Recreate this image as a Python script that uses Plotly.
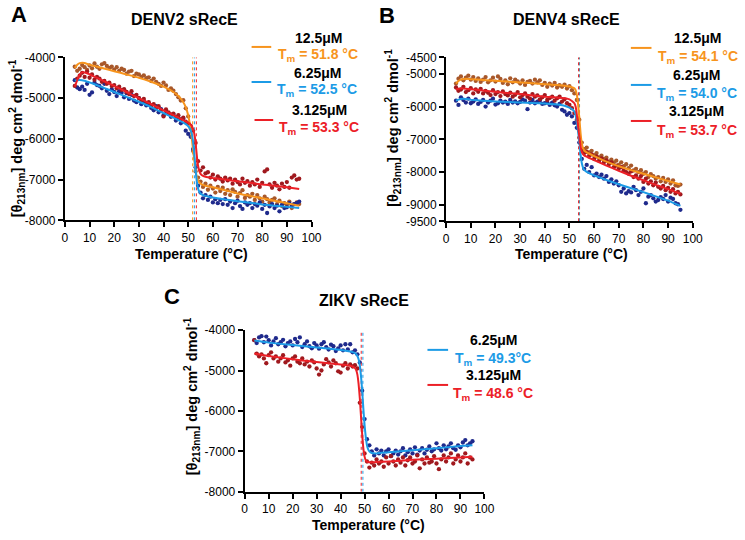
import plotly.graph_objects as go

# ---------------- data ----------------
temperature_c = [4, 5, 6, 7, 8, 9, 10, 11, 12, 13,
                 14, 15, 16, 17, 18, 19, 20, 21, 22, 23,
                 24, 25, 26, 27, 28, 29, 30, 31, 32, 33,
                 34, 35, 36, 37, 38, 39, 40, 41, 42, 43,
                 44, 45, 46, 47, 48, 49, 50, 51, 52, 53,
                 54, 55, 56, 57, 58, 59, 60, 61, 62, 63,
                 64, 65, 66, 67, 68, 69, 70, 71, 72, 73,
                 74, 75, 76, 77, 78, 79, 80, 81, 82, 83,
                 84, 85, 86, 87, 88, 89, 90, 91, 92, 93,
                 94, 95]

# Panel A - DENV2 sRecE (measured points)
denv2_12p5 = [-4230, -4330, -4280, -4190, -4240, -4310, -4200, -4270, -4150, -4230,
              -4280, -4170, -4140, -4210, -4260, -4230, -4300, -4240, -4330, -4280,
              -4310, -4400, -4350, -4330, -4460, -4400, -4420, -4480, -4440, -4510,
              -4490, -4580, -4520, -4600, -4650, -4700, -4620, -4690, -4800, -4760,
              -4820, -4900, -4980, -5060, -5050, -5250, -5450, -5750, -6300, -6800,
              -6950, -7050, -7180, -7100, -7250, -7150, -7220, -7320, -7180, -7280,
              -7200, -7350, -7260, -7380, -7240, -7300, -7420, -7330, -7260, -7450,
              -7380, -7420, -7350, -7500, -7380, -7460, -7540, -7420, -7480, -7560,
              -7500, -7460, -7600, -7520, -7650, -7580, -7620, -7540, -7700, -7600,
              -7560, -7600]
denv2_6p25 = [-4560, -4740, -4780, -4720, -4800, -4650, -4920, -4860, -4620, -4680,
              -4700, -4760, -4650, -4820, -4900, -4780, -4850, -4950, -4830, -4870,
              -4980, -4880, -5020, -4920, -5060, -5100, -5000, -5150, -5080, -5180,
              -5130, -5240, -5300, -5200, -5350, -5270, -5420, -5320, -5380, -5460,
              -5400, -5550, -5480, -5620, -5500, -5800, -5880, -5950, -6250, -6700,
              -7150, -7320, -7460, -7380, -7500, -7420, -7560, -7480, -7580, -7500,
              -7600, -7480, -7620, -7540, -7700, -7580, -7520, -7650, -7720, -7560,
              -7620, -7580, -7700, -7600, -7640, -7560, -7720, -7620, -7820, -7660,
              -7600, -7700, -7640, -7780, -7620, -7700, -7680, -7580, -7640, -7600,
              -7580, -7540]
denv2_3p125 = [-4700, -4520, -4450, -4380, -4480, -4350, -4500, -4420, -4550, -4480,
               -4520, -4600, -4580, -4650, -4620, -4700, -4680, -4760, -4720, -4800,
               -4780, -4850, -4900, -4830, -4950, -4920, -5000, -5060, -5020, -5120,
               -5100, -5180, -5150, -5250, -5200, -5300, -5450, -5280, -5350, -5400,
               -5380, -5460, -5420, -5520, -5480, -5580, -5620, -5680, -5800, -6100,
               -6550, -6780, -6700, -6850, -6820, -6950, -6880, -7000, -6920, -6980,
               -7050, -6950, -7020, -6980, -7100, -7000, -7060, -7120, -6980, -7080,
               -7040, -7150, -7060, -7120, -7000, -7180, -7080, -6800, -6750, -7120,
               -7200, -7080, -7150, -7240, -7100, -7180, -7060, -7200, -6950, -6900,
               -7000, -6980]

# Panel A fitted curves
fit_t_a = [4, 5, 6, 7, 8, 9, 10, 15, 20, 25, 30, 35, 40, 44, 46, 48, 49, 50, 50.5, 51,
           51.5, 52, 52.5, 53, 53.5, 54, 54.5, 55, 56, 57, 58, 60, 65, 70, 75, 80, 85, 90, 95]
fit_denv2_12p5 = [-4260, -4180, -4140, -4130, -4140, -4160, -4180, -4260, -4340, -4420,
                  -4500, -4600, -4720, -4850, -4950, -5100, -5220, -5420, -5580, -5780,
                  -6020, -6280, -6550, -6780, -6930, -7020, -7070, -7100, -7130, -7150,
                  -7165, -7190, -7260, -7340, -7400, -7460, -7520, -7580, -7640]
fit_denv2_6p25 = [-4570, -4560, -4555, -4560, -4575, -4595, -4615, -4730, -4850, -4970,
                  -5090, -5220, -5370, -5480, -5540, -5600, -5640, -5690, -5730, -5790,
                  -5890, -6080, -6400, -6760, -7050, -7220, -7300, -7340, -7380, -7400,
                  -7415, -7440, -7490, -7530, -7570, -7610, -7640, -7670, -7700]
fit_denv2_3p125 = [-4720, -4560, -4420, -4370, -4370, -4390, -4420, -4560, -4700, -4850,
                   -5000, -5150, -5300, -5420, -5480, -5540, -5570, -5600, -5620, -5650,
                   -5690, -5760, -5880, -6100, -6420, -6660, -6790, -6860, -6910, -6930,
                   -6940, -6960, -7000, -7040, -7080, -7120, -7150, -7190, -7230]

# Panel B - DENV4 sRecE (measured points)
denv4_12p5 = [-5300, -5150, -5080, -5200, -5120, -5060, -5180, -5100, -5220, -5140,
              -5250, -5180, -5100, -5260, -5200, -5120, -5240, -5080, -5160, -5280,
              -5200, -5320, -5140, -5260, -5180, -5230, -5300, -5200, -5340, -5250,
              -5220, -5300, -5180, -5260, -5200, -5340, -5280, -5400, -5300, -5360,
              -5280, -5420, -5350, -5400, -5330, -5450, -5380, -5500, -5600, -5800,
              -6400, -7100, -7300, -7250, -7400, -7350, -7480, -7420, -7550, -7500,
              -7600, -7560, -7680, -7620, -7700, -7650, -7780, -7700, -7820, -7760,
              -7880, -7800, -7950, -7900, -8000, -7940, -8050, -8000, -8150, -8060,
              -8120, -8200, -8150, -8280, -8180, -8300, -8220, -8350, -8250, -8400,
              -8420, -8380]
denv4_6p25 = [-5820, -5950, -5720, -5800, -5880, -5760, -5900, -5850, -5780, -5920,
              -5860, -5800, -6000, -5880, -5820, -5760, -5940, -5900, -5820, -5880,
              -5850, -5920, -5800, -5880, -5840, -5900, -5860, -5780, -5820, -6080,
              -5880, -5800, -5900, -5850, -5820, -5920, -5900, -5870, -5950, -5880,
              -5960, -6000, -5920, -6100, -6150, -6250, -6200, -6300, -6500, -6650,
              -7100, -7600, -7900, -7780, -8000, -7850, -8100, -8050, -8150, -8080,
              -8200, -8120, -8300, -8220, -8350, -8280, -8400, -8600, -8500, -8650,
              -8580, -8620, -8450, -8550, -8700, -8600, -8500, -8950, -8750, -8700,
              -8800, -8900, -8850, -8760, -8820, -8700, -8900, -8780, -8820, -8950,
              -8980, -9150]
denv4_3p125 = [-5420, -5520, -5480, -5400, -5560, -5500, -5440, -5600, -5480, -5550,
               -5460, -5600, -5520, -5580, -5650, -5500, -5620, -5560, -5680, -5540,
               -5620, -5660, -5580, -5700, -5640, -5560, -5720, -5650, -5600, -5700,
               -5760, -5620, -5700, -5660, -5780, -5720, -5650, -5800, -5740, -5700,
               -5820, -5750, -5700, -5850, -5780, -5900, -5950, -6050, -6200, -6400,
               -6950, -7350, -7420, -7380, -7500, -7460, -7600, -7520, -7650, -7580,
               -7700, -7640, -7760, -7700, -7850, -7800, -7900, -7850, -7950, -8000,
               -8050, -7980, -8150, -8100, -8200, -8120, -8300, -8200, -8350, -8280,
               -8400, -8320, -8450, -8500, -8420, -8550, -8480, -8600, -8520, -8650,
               -8600, -8680]

# Panel B fitted curves
fit_t_b = [4, 5, 6, 7, 8, 10, 15, 20, 25, 30, 35, 40, 44, 46, 48, 50, 51, 52, 52.5, 53,
           53.5, 54, 54.5, 55, 55.5, 56, 57, 58, 60, 65, 70, 75, 80, 85, 90, 95]
fit_denv4_12p5 = [-5300, -5220, -5180, -5160, -5155, -5165, -5190, -5215, -5240, -5265,
                  -5290, -5320, -5340, -5350, -5365, -5390, -5410, -5440, -5500, -5640,
                  -5930, -6330, -6800, -7120, -7270, -7340, -7400, -7440, -7510, -7680,
                  -7820, -7940, -8050, -8160, -8270, -8380]
fit_denv4_6p25 = [-5820, -5790, -5770, -5765, -5770, -5790, -5820, -5845, -5865, -5880,
                  -5895, -5910, -5930, -5945, -5975, -6030, -6080, -6150, -6260, -6500,
                  -6770, -7050, -7450, -7720, -7860, -7930, -7990, -8030, -8100, -8240,
                  -8370, -8490, -8610, -8740, -8870, -9030]
fit_denv4_3p125 = [-5480, -5460, -5450, -5450, -5455, -5470, -5510, -5550, -5590, -5620,
                   -5660, -5700, -5720, -5730, -5750, -5780, -5830, -5900, -6000, -6250,
                   -6600, -6900, -7200, -7380, -7450, -7490, -7530, -7570, -7630, -7800,
                   -7960, -8110, -8250, -8390, -8520, -8660]

# Panel C - ZIKV sRecE (measured points)
zikv_6p25 = [-4250, -4320, -4180, -4150, -4300, -4160, -4250, -4380, -4280, -4200,
             -4350, -4300, -4240, -4400, -4320, -4280, -4380, -4220, -4300, -4180,
             -4420, -4350, -4280, -4400, -4450, -4320, -4380, -4460, -4350, -4300,
             -4420, -4480, -4360, -4400, -4520, -4450, -4380, -4500, -4350, -4480,
             -4350, -4550, -4500, -4600, -4800, -5500, -6200, -6700, -6850, -7000,
             -7100, -6950, -7050, -6980, -7100, -7000, -6950, -7120, -7050, -6980,
             -7080, -7000, -6920, -7100, -7020, -6950, -7050, -6900, -7080, -6980,
             -6920, -7050, -6960, -6880, -7000, -6950, -6800, -6920, -6980, -6850,
             -6950, -6880, -6800, -6920, -6960, -6850, -6900, -6780, -6720, -6850,
             -6800, -6750]
zikv_3p125 = [-4250, -4580, -4650, -4600, -4700, -4820, -4620, -4550, -4700, -4650,
              -4780, -4700, -4620, -4800, -4750, -4880, -4700, -4650, -4780, -4820,
              -4700, -4850, -4780, -4900, -4750, -4800, -4950, -5100, -5000, -4850,
              -4720, -4800, -4900, -4750, -4820, -5020, -5050, -4880, -4820, -4950,
              -4850, -4900, -4870, -4950, -5800, -6400, -7050, -7250, -7400, -7280,
              -7350, -7200, -7300, -7250, -7380, -7150, -7300, -7120, -7250, -7350,
              -7200, -7280, -7150, -7350, -7220, -7150, -7300, -7250, -7100, -7420,
              -7200, -7300, -7150, -7280, -7250, -7120, -7300, -7440, -7200, -7100,
              -7250, -7150, -7050, -7300, -7200, -7100, -7250, -7150, -7050, -7300,
              -7150, -7200]

# Panel C fitted curves
fit_t_c = [4, 10, 20, 30, 40, 44, 45, 46, 46.5, 47, 47.5, 48, 48.5, 49, 49.5, 50, 50.5,
           51, 51.5, 52, 53, 55, 60, 70, 80, 90, 95]
fit_zikv_6p25 = [-4260, -4310, -4370, -4430, -4490, -4530, -4545, -4570, -4595, -4640,
                 -4720, -4870, -5130, -5500, -5950, -6350, -6650, -6850, -6950, -7000,
                 -7040, -7050, -7020, -6970, -6920, -6870, -6850]
fit_zikv_3p125 = [-4580, -4640, -4720, -4790, -4850, -4880, -4900, -4940, -4990, -5100,
                  -5330, -5680, -6130, -6580, -6930, -7130, -7220, -7255, -7265, -7270,
                  -7270, -7265, -7250, -7210, -7180, -7150, -7130]

# Melting temperatures and labels
tm_denv2 = [51.8, 52.5, 53.3]
tm_denv4 = [54.1, 54.0, 53.7]
tm_zikv = [49.3, 48.6]
conc_denv = ["12.5μM", "6.25μM", "3.125μM"]
conc_zikv = ["6.25μM", "3.125μM"]
tm_text_denv2 = ["51.8 °C", "52.5 °C", "53.3 °C"]
tm_text_denv4 = ["54.1 °C", "54.0 °C", "53.7 °C"]
tm_text_zikv = ["49.3°C", "48.6 °C"]
panel_titles = ["DENV2 sRecE", "DENV4 sRecE", "ZIKV sRecE"]
panel_letters = ["A", "B", "C"]

x_ticks = [0, 10, 20, 30, 40, 50, 60, 70, 80, 90, 100]
y_ticks_ac = [-4000, -5000, -6000, -7000, -8000]
y_ticks_b = [-4500, -5000, -6000, -7000, -8000, -9000, -9500]
y_range_ac = [-8000, -4000]
y_range_b = [-9500, -4500]

# ---------------- style ----------------
W, H = 745, 540
FONT = "Liberation Sans, Arial, Helvetica, sans-serif"
LINE_C = {"o": "#F7941D", "b": "#1C9BE6", "r": "#EC2027"}
DOT_C = {"o": "#A8582A", "b": "#1F2A8C", "r": "#A0191E"}


def px(x):
    return x / W


def py(y):
    return 1 - y / H


fig = go.Figure()


def add_panel(axis_idx, series, fits, fit_t, tms, yrange, colors):
    xa = "x" if axis_idx == 1 else f"x{axis_idx}"
    ya = "y" if axis_idx == 1 else f"y{axis_idx}"
    for vals, c in zip(series, colors):
        fig.add_trace(go.Scatter(x=temperature_c, y=vals, mode="markers",
                                 marker=dict(size=4.3, color=DOT_C[c]),
                                 xaxis=xa, yaxis=ya, showlegend=False, hoverinfo="skip"))
    for tm, c in zip(tms, colors):
        fig.add_trace(go.Scatter(x=[tm, tm], y=yrange, mode="lines",
                                 line=dict(color=LINE_C[c], width=1, dash="dot"),
                                 xaxis=xa, yaxis=ya, showlegend=False, hoverinfo="skip"))
    for vals, c in zip(fits, colors):
        fig.add_trace(go.Scatter(x=fit_t, y=vals, mode="lines",
                                 line=dict(color=LINE_C[c], width=2, shape="spline", smoothing=0.4),
                                 xaxis=xa, yaxis=ya, showlegend=False, hoverinfo="skip"))


add_panel(1, [denv2_12p5, denv2_6p25, denv2_3p125],
          [fit_denv2_12p5, fit_denv2_6p25, fit_denv2_3p125], fit_t_a,
          tm_denv2, y_range_ac, ["o", "b", "r"])
add_panel(2, [denv4_12p5, denv4_6p25, denv4_3p125],
          [fit_denv4_12p5, fit_denv4_6p25, fit_denv4_3p125], fit_t_b,
          tm_denv4, y_range_b, ["o", "b", "r"])
add_panel(3, [zikv_6p25, zikv_3p125],
          [fit_zikv_6p25, fit_zikv_3p125], fit_t_c,
          tm_zikv, y_range_ac, ["b", "r"])


def xaxis(domain, anchor):
    return dict(domain=domain, anchor=anchor, range=[0, 100], tickvals=x_ticks,
                ticktext=[str(v) for v in x_ticks], ticks="outside", ticklen=5,
                tickwidth=2, tickcolor="black", showline=True, linewidth=2,
                linecolor="black", showgrid=False, zeroline=False,
                tickfont=dict(family=FONT, size=12, color="black"))


def yaxis(domain, anchor, rng, ticks):
    return dict(domain=domain, anchor=anchor, range=rng, tickvals=ticks,
                ticktext=[str(v) for v in ticks], ticks="outside", ticklen=5,
                tickwidth=2, tickcolor="black", showline=True, linewidth=2,
                linecolor="black", showgrid=False, zeroline=False,
                tickfont=dict(family=FONT, size=12, color="black"))


fig.update_layout(
    width=W, height=H, autosize=False,
    margin=dict(l=0, r=0, t=0, b=0),
    paper_bgcolor="white", plot_bgcolor="white",
    font=dict(family=FONT, color="black"),
    xaxis=xaxis([px(63), px(314)], "y"),
    yaxis=yaxis([py(219), py(51.7)], "x", y_range_ac, y_ticks_ac),
    xaxis2=xaxis([px(451), px(702)], "y2"),
    yaxis2=yaxis([py(220), py(51.7)], "x2", y_range_b, y_ticks_b),
    xaxis3=xaxis([px(246), px(490)], "y3"),
    yaxis3=yaxis([py(497.7), py(331.7)], "x3", y_range_ac, y_ticks_ac),
)

ann = []


def text(x, y, s, size, color="black", bold=True, angle=0):
    ann.append(dict(x=px(x), y=py(y), xref="paper", yref="paper", text=f"<b>{s}</b>" if bold else s,
                    showarrow=False, xanchor="center", yanchor="middle", textangle=angle,
                    font=dict(family=FONT, size=size, color=color)))


# panel letters and titles
text(16, 8, panel_letters[0], 22)
text(391, 9, panel_letters[1], 22)
text(172, 297, panel_letters[2], 22)
text(185, 13, panel_titles[0], 16)
text(574, 13, panel_titles[1], 16)
text(367, 301, panel_titles[2], 16)

# axis titles
xt = "Temperature (°C)"
yt = "[θ<sub>213nm</sub>] deg cm<sup>2</sup> dmol<sup>-1</sup>"
text(192, 254, xt, 14)
text(579, 254, xt, 14)
text(372, 532, xt, 14)
text(14, 135, yt, 14.5, angle=-90)
text(397, 124, yt, 14.5, angle=-90)
text(192, 400, yt, 14.5, angle=-90)

shapes = []


def legend_entry(lx0, lx1, ly, cx, label_y, tm_y, label, tmtxt, c):
    shapes.append(dict(type="line", xref="paper", yref="paper", x0=px(lx0), x1=px(lx1),
                       y0=py(ly), y1=py(ly), line=dict(color=LINE_C[c], width=2)))
    text(cx, label_y, label, 14)
    text(cx, tm_y, f"T<sub>m</sub> = {tmtxt}", 14, color=LINE_C[c])


# legend A
legend_entry(253, 273, 41, 321, 32, 49, conc_denv[0], tm_text_denv2[0], "o")
legend_entry(253, 273, 77, 320, 68, 85, conc_denv[1], tm_text_denv2[1], "b")
legend_entry(256, 275, 116, 322, 106, 124, conc_denv[2], tm_text_denv2[2], "r")
# legend B
legend_entry(639, 660, 42, 707, 32, 51, conc_denv[0], tm_text_denv4[0], "o")
legend_entry(639, 660, 80, 706, 70, 89, conc_denv[1], tm_text_denv4[1], "b")
legend_entry(639, 660, 117, 706, 107, 127, conc_denv[2], tm_text_denv4[2], "r")
# legend C
legend_entry(432, 453, 352, 499, 342, 361, conc_zikv[0], tm_text_zikv[0], "b")
legend_entry(432, 453, 388, 499, 378, 397, conc_zikv[1], tm_text_zikv[1], "r")

fig.update_layout(annotations=ann, shapes=shapes)

fig.write_html("out.html", config={"displayModeBar": False},
               post_script="document.body.style.margin='0';")
